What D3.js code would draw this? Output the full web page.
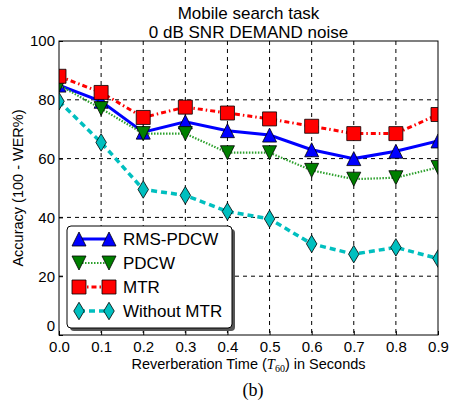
<!DOCTYPE html>
<html>
<head>
<meta charset="utf-8">
<script src="https://cdn.jsdelivr.net/npm/d3@7"></script>
<style>
body { margin: 0; background: #fff; }
text { font-family: "Liberation Sans", Arial, sans-serif; }
</style>
</head>
<body>
<script>
var times = [0.0, 0.1, 0.2, 0.3, 0.4, 0.5, 0.6, 0.7, 0.8, 0.9];
var rmsPdcw = [85, 79.5, 69, 72.5, 69.5, 68, 63, 60, 62.5, 66];
var pdcw = [85, 77, 68.5, 68.5, 62, 62, 56, 53, 53.5, 57];
var mtr = [88, 82.5, 74, 77.5, 75.5, 73.5, 71, 68.5, 68.5, 75];
var withoutMtr = [79.5, 65.5, 49.5, 47.5, 42, 39.5, 31, 27.5, 29.8, 26];
var yTicks = [0, 20, 40, 60, 80, 100];

var series = [
    {name: "RMS-PDCW", values: rmsPdcw, color: "#0000ff", fill: "#0000ff", dash: null, width: 3, marker: "up"},
    {name: "PDCW", values: pdcw, color: "#2ca02c", fill: "#007f00", dash: "1.5,1.5", width: 2.2, marker: "down"},
    {name: "MTR", values: mtr, color: "#ff0000", fill: "#ff0000", dash: "5,3,1.5,3", width: 3, marker: "square"},
    {name: "Without MTR", values: withoutMtr, color: "#00bfbf", fill: "#00bfbf", dash: "6,4", width: 3.5, marker: "diamond"}
];

var width = 451, height = 404;
var margin = {left: 59, right: 13, top: 41, bottom: 69};
var innerW = width - margin.left - margin.right,
    innerH = height - margin.top - margin.bottom;

var svg = d3.select("body").append("svg")
    .attr("width", width)
    .attr("height", height);

var x = d3.scaleLinear().domain([0, 0.9]).range([0, innerW]);
var y = d3.scaleLinear().domain([0, 100]).range([innerH, 0]);

var g = svg.append("g").attr("transform", "translate(" + margin.left + "," + margin.top + ")");

svg.append("defs").append("clipPath").attr("id", "clip")
    .append("rect").attr("width", innerW).attr("height", innerH);

//grid lines
g.selectAll(".vgrid").data(times.slice(1, -1)).enter().append("line")
    .attr("x1", function(d){ return x(d); }).attr("x2", function(d){ return x(d); })
    .attr("y1", 0).attr("y2", innerH)
    .attr("stroke", "#000").attr("stroke-width", 1).attr("stroke-dasharray", "4,4");
g.selectAll(".hgrid").data(yTicks.slice(1, -1)).enter().append("line")
    .attr("y1", function(d){ return y(d); }).attr("y2", function(d){ return y(d); })
    .attr("x1", 0).attr("x2", innerW)
    .attr("stroke", "#000").attr("stroke-width", 1).attr("stroke-dasharray", "4,4");

//axes
var xAxis = d3.axisBottom(x).tickValues(times).tickFormat(d3.format(".1f")).tickSizeInner(-4).tickSizeOuter(0).tickPadding(6);
var yAxis = d3.axisLeft(y).tickValues(yTicks).tickSizeInner(-4).tickSizeOuter(0).tickPadding(4);

var gx = g.append("g").attr("transform", "translate(0," + innerH + ")").call(xAxis);
var gy = g.append("g").call(yAxis);
[gx, gy].forEach(function(a){
    a.select(".domain").remove();
    a.selectAll("text").attr("font-size", 15).attr("fill", "#000").style("font-family", "Liberation Sans, Arial, sans-serif");
});
//keep the "0" label from colliding with "0.0"
gy.selectAll("text").filter(function(d){ return d == 0; }).attr("dy", "-0.3em");

function markerPath(type, s){
    var r = s / 2;
    if (type == "up") return "M0," + (-r) + "L" + r + "," + r + "L" + (-r) + "," + r + "Z";
    if (type == "down") return "M0," + r + "L" + r + "," + (-r) + "L" + (-r) + "," + (-r) + "Z";
    if (type == "square") return "M" + (-r) + "," + (-r) + "h" + s + "v" + s + "h" + (-s) + "Z";
    return "M0," + (-r * 1.25) + "L" + (r * 0.75) + ",0L0," + (r * 1.25) + "L" + (-r * 0.75) + ",0Z";
}

var line = d3.line()
    .x(function(d, i){ return x(times[i]); })
    .y(function(d){ return y(d); });

var plot = g.append("g").attr("clip-path", "url(#clip)");

series.forEach(function(s){
    plot.append("path")
        .datum(s.values)
        .attr("d", line)
        .attr("fill", "none")
        .attr("stroke", s.color)
        .attr("stroke-width", s.width)
        .attr("stroke-dasharray", s.dash);
    plot.selectAll(".m" + s.marker).data(s.values).enter().append("path")
        .attr("transform", function(d, i){ return "translate(" + x(times[i]) + "," + y(d) + ")"; })
        .attr("d", markerPath(s.marker, 14))
        .attr("fill", s.fill)
        .attr("stroke", "#000")
        .attr("stroke-width", 0.8);
});

//frame
g.append("rect").attr("width", innerW).attr("height", innerH)
    .attr("fill", "none").attr("stroke", "#000").attr("stroke-width", 1);

//legend
var legend = svg.append("g").attr("transform", "translate(67,226)");
legend.append("rect").attr("x", 3).attr("y", 3).attr("width", 165).attr("height", 102).attr("rx", 4)
    .attr("fill", "#555");
legend.append("rect").attr("width", 165).attr("height", 102).attr("rx", 4)
    .attr("fill", "#fff").attr("stroke", "#000").attr("stroke-width", 1);
series.forEach(function(s, i){
    var ly = 13 + i * 24;
    legend.append("line").attr("x1", 12).attr("x2", 42).attr("y1", ly).attr("y2", ly)
        .attr("stroke", s.color).attr("stroke-width", s.width).attr("stroke-dasharray", s.dash);
    [12, 42].forEach(function(mx){
        legend.append("path").attr("transform", "translate(" + mx + "," + ly + ")")
            .attr("d", markerPath(s.marker, 14))
            .attr("fill", s.fill).attr("stroke", "#000").attr("stroke-width", 0.8);
    });
    legend.append("text").attr("x", 56).attr("y", ly + 6).attr("font-size", 17)
        .text(s.name);
});

//titles
var title = svg.append("text").attr("x", margin.left + innerW / 2).attr("text-anchor", "middle")
    .attr("font-size", 17);
title.append("tspan").attr("x", margin.left + innerW / 2).attr("y", 19).text("Mobile search task");
title.append("tspan").attr("x", margin.left + innerW / 2).attr("y", 38).text("0 dB SNR DEMAND noise");

var xl = svg.append("text").attr("x", margin.left + innerW / 2).attr("y", 369).attr("text-anchor", "middle")
    .attr("font-size", 14.5);
xl.append("tspan").text("Reverberation Time (");
xl.append("tspan").style("font-family", "Liberation Serif, serif").style("font-style", "italic").text("T");
xl.append("tspan").attr("font-size", 10).attr("dy", 3).style("font-family", "Liberation Serif, serif").text("60");
xl.append("tspan").attr("dy", -3).text(") in Seconds");

svg.append("text").attr("transform", "translate(23," + (margin.top + innerH / 2) + ") rotate(-90)")
    .attr("text-anchor", "middle").attr("font-size", 14.5)
    .text("Accuracy (100 - WER%)");

svg.append("text").attr("x", 253).attr("y", 396).attr("text-anchor", "middle").attr("font-size", 18)
    .style("font-family", "Liberation Serif, serif").text("(b)");
</script>
</body>
</html>
